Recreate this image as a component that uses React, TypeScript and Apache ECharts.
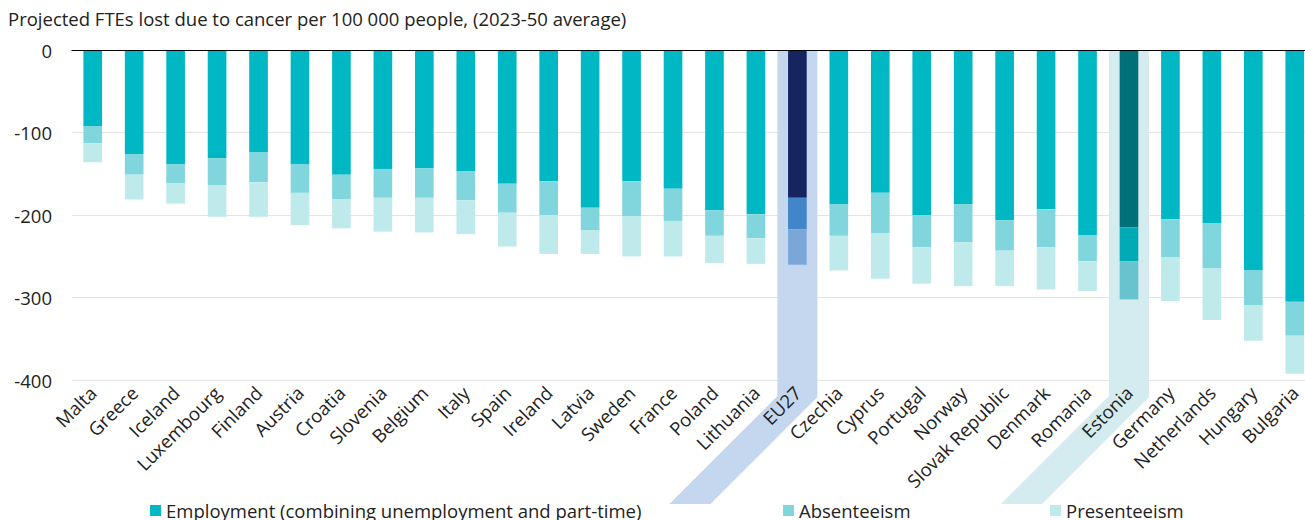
import React, { useEffect, useRef } from "react";
import * as echarts from "echarts";

const title = "Projected FTEs lost due to cancer per 100 000 people, (2023-50 average)";

const categories = [
  "Malta", "Greece", "Iceland", "Luxembourg", "Finland", "Austria", "Croatia", "Slovenia",
  "Belgium", "Italy", "Spain", "Ireland", "Latvia", "Sweden", "France", "Poland", "Lithuania",
  "EU27", "Czechia", "Cyprus", "Portugal", "Norway", "Slovak Republic", "Denmark", "Romania",
  "Estonia", "Germany", "Netherlands", "Hungary", "Bulgaria",
];

const employment = [
  -92, -126, -138, -131, -124, -138, -151, -144, -143, -147, -162, -159, -191, -159, -168, -194,
  -199, -179, -187, -173, -200, -187, -206, -193, -224, -215, -205, -210, -267, -305,
];
const absenteeism = [
  -21, -25, -23, -33, -36, -35, -30, -35, -36, -35, -35, -41, -27, -42, -39, -31,
  -29, -38, -38, -49, -39, -46, -37, -46, -32, -41, -46, -54, -42, -41,
];
const presenteeism = [
  -23, -30, -25, -38, -42, -39, -35, -41, -42, -41, -41, -47, -29, -49, -43, -33,
  -31, -43, -42, -55, -44, -53, -43, -51, -36, -46, -53, -63, -43, -46,
];

const seriesNames = [
  "Employment (combining unemployment and part-time)",
  "Absenteeism",
  "Presenteeism",
];
const yTicks = { min: -400, max: 0, interval: 100 };

const baseColors = ["#00B8C4", "#80D6DC", "#BFEAEC"];
const highlightColors: Record<string, string[]> = {
  EU27: ["#162560", "#4086C8", "#7AA7D8"],
  Estonia: ["#007078", "#00ABB5", "#67C4CE"],
};
const bandColors: Record<string, string> = {
  EU27: "#C4D7EF",
  Estonia: "#D4EBEF",
};

const FONT = "'Open Sans', 'Noto Sans', sans-serif";
const TEXT = "#222222";
const FS = 18.5;

export default function App() {
  const ref = useRef<HTMLDivElement>(null);

  useEffect(() => {
    const chart = echarts.init(ref.current!, null, { renderer: "svg" });
    const values = [employment, absenteeism, presenteeism];

    const mk = (vals: number[], si: number) =>
      vals.map((v, i) => {
        const hc = highlightColors[categories[i]];
        return hc ? { value: v, itemStyle: { color: hc[si] } } : v;
      });

    const legendBase = {
      icon: "rect",
      itemWidth: 11,
      itemHeight: 11,
      padding: 0,
      selectedMode: false,
      textStyle: { fontFamily: FONT, fontSize: FS, color: TEXT },
      top: 501,
    };

    chart.setOption({
      animation: false,
      backgroundColor: "#ffffff",
      title: {
        text: title,
        left: 8,
        top: 9,
        padding: 0,
        textStyle: { fontFamily: FONT, fontSize: FS, fontWeight: "normal", color: TEXT },
      },
      grid: { left: 72, top: 50, width: 1243.5, height: 330.3 },
      legend: [
        { ...legendBase, data: [seriesNames[0]], left: 150 },
        { ...legendBase, data: [seriesNames[1]], left: 783 },
        { ...legendBase, data: [seriesNames[2]], left: 1050 },
      ],
      xAxis: [
        {
          type: "category",
          data: categories,
          position: "bottom",
          z: 3,
          axisLine: { show: false },
          axisTick: { show: false },
          axisLabel: {
            interval: 0,
            rotate: 45,
            margin: 9,
            fontFamily: FONT,
            fontSize: FS,
            color: TEXT,
          },
        },
        {
          type: "category",
          data: categories,
          position: "top",
          z: 3,
          axisLine: { show: true, onZero: false, lineStyle: { color: "#000000", width: 1.2 } },
          axisTick: { show: false },
          axisLabel: { show: false },
        },
      ],
      yAxis: {
        type: "value",
        min: yTicks.min,
        max: yTicks.max,
        interval: yTicks.interval,
        axisLine: { show: false },
        axisTick: { show: false },
        axisLabel: { margin: 20, fontFamily: FONT, fontSize: FS, color: TEXT },
        splitLine: { lineStyle: { color: "#e3e3e3", width: 1.2 } },
      },
      series: values.map((vals, si) => ({
        name: seriesNames[si],
        type: "bar",
        stack: "total",
        barWidth: "45%",
        z: 2,
        itemStyle: { color: baseColors[si] },
        emphasis: { disabled: true },
        data: mk(vals, si),
      })),
    });

    const top = 50;
    const bendY = 396;
    const bottomY = 504;
    const half = 20;
    const slant = bottomY - bendY;
    const graphic = Object.keys(bandColors).map((name) => {
      const cx = chart.convertToPixel({ xAxisIndex: 0 }, name) as number;
      return {
        type: "polygon",
        z: 1,
        silent: true,
        shape: {
          points: [
            [cx - half, top],
            [cx + half, top],
            [cx + half, bendY + 1],
            [cx + half - slant + 1, bottomY],
            [cx - half - slant, bottomY],
            [cx - half, bendY],
          ],
        },
        style: { fill: bandColors[name] },
      };
    });
    chart.setOption({ graphic });

    return () => chart.dispose();
  }, []);

  return (
    <div
      style={{
        position: "fixed",
        left: 0,
        top: 0,
        width: 1305,
        height: 520,
        overflow: "hidden",
        background: "#ffffff",
      }}
    >
      <div ref={ref} style={{ width: 1320, height: 520 }} />
    </div>
  );
}
